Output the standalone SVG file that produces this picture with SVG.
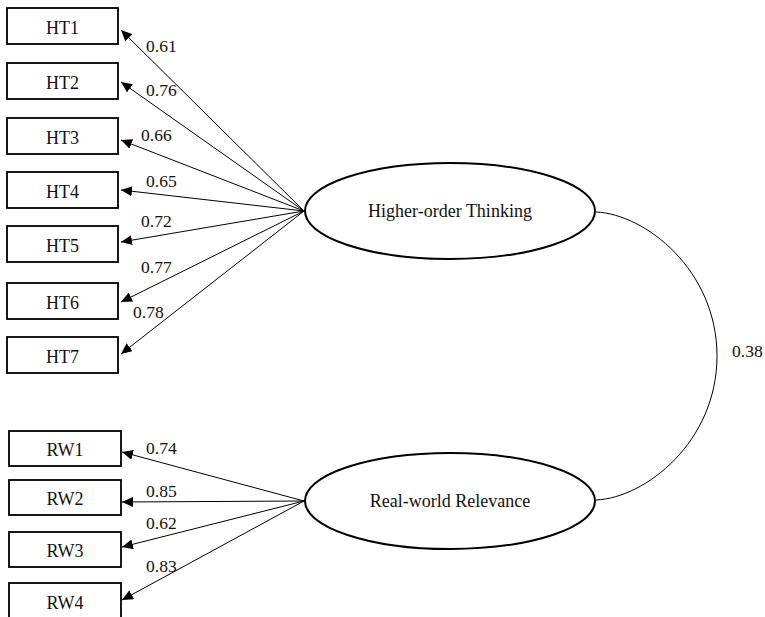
<svg xmlns="http://www.w3.org/2000/svg" width="765" height="617" viewBox="0 0 765 617">
<defs>
<style>
.box{fill:#fff;stroke:#000;stroke-width:1.8}
.lat{fill:#fff;stroke:#000;stroke-width:2}
.lbl{font-family:"Liberation Serif","Times New Roman",serif;font-size:18px;fill:#111;text-anchor:middle}
.num{font-family:"Liberation Serif","Times New Roman",serif;font-size:17.5px;fill:#111}
.ln{stroke:#000;stroke-width:1;fill:none}
</style>
<marker id="ah" markerUnits="userSpaceOnUse" markerWidth="12" markerHeight="10" refX="11" refY="5" orient="auto">
<path d="M0,0 L11,5 L0,10 z" fill="#000"/>
</marker>
</defs>
<rect width="765" height="617" fill="#fff"/>
<g id="connectors">
<line class="ln" x1="304" y1="211" x2="121" y2="30" marker-end="url(#ah)"/>
<line class="ln" x1="304" y1="211" x2="121" y2="82" marker-end="url(#ah)"/>
<line class="ln" x1="304" y1="211" x2="121" y2="140" marker-end="url(#ah)"/>
<line class="ln" x1="304" y1="211" x2="121" y2="190" marker-end="url(#ah)"/>
<line class="ln" x1="304" y1="211" x2="121" y2="242" marker-end="url(#ah)"/>
<line class="ln" x1="304" y1="211" x2="121" y2="302" marker-end="url(#ah)"/>
<line class="ln" x1="304" y1="211" x2="121" y2="354" marker-end="url(#ah)"/>
<line class="ln" x1="304" y1="501" x2="122" y2="452" marker-end="url(#ah)"/>
<line class="ln" x1="304" y1="501" x2="122" y2="502" marker-end="url(#ah)"/>
<line class="ln" x1="304" y1="501" x2="122" y2="547" marker-end="url(#ah)"/>
<line class="ln" x1="304" y1="501" x2="122" y2="600" marker-end="url(#ah)"/>
<path class="ln" d="M596,212 C645,214 717,270 717,356 S645,498 596,500"/>
<text class="num" x="146" y="52">0.61</text>
<text class="num" x="146" y="96">0.76</text>
<text class="num" x="141" y="141">0.66</text>
<text class="num" x="146" y="187">0.65</text>
<text class="num" x="141" y="227">0.72</text>
<text class="num" x="141" y="273">0.77</text>
<text class="num" x="133" y="318">0.78</text>
<text class="num" x="146" y="454">0.74</text>
<text class="num" x="146" y="497">0.85</text>
<text class="num" x="146" y="529">0.62</text>
<text class="num" x="146" y="572">0.83</text>
<text class="num" x="732" y="357">0.38</text>
</g>
<g id="HT1"><rect class="box" x="7" y="8" width="111" height="36"/><text class="lbl" x="62.5" y="34">HT1</text></g>
<g id="HT2"><rect class="box" x="7" y="63" width="111" height="36"/><text class="lbl" x="62.5" y="89">HT2</text></g>
<g id="HT3"><rect class="box" x="7" y="118" width="111" height="36"/><text class="lbl" x="62.5" y="144">HT3</text></g>
<g id="HT4"><rect class="box" x="7" y="172" width="111" height="36"/><text class="lbl" x="62.5" y="198">HT4</text></g>
<g id="HT5"><rect class="box" x="7" y="226" width="111" height="36"/><text class="lbl" x="62.5" y="252">HT5</text></g>
<g id="HT6"><rect class="box" x="7" y="283" width="111" height="36"/><text class="lbl" x="62.5" y="309">HT6</text></g>
<g id="HT7"><rect class="box" x="7" y="337" width="111" height="36"/><text class="lbl" x="62.5" y="363">HT7</text></g>
<g id="RW1"><rect class="box" x="9" y="431" width="112" height="35"/><text class="lbl" x="65" y="456">RW1</text></g>
<g id="RW2"><rect class="box" x="9" y="480" width="112" height="35"/><text class="lbl" x="65" y="505">RW2</text></g>
<g id="RW3"><rect class="box" x="9" y="532" width="112" height="35"/><text class="lbl" x="65" y="557">RW3</text></g>
<g id="RW4"><rect class="box" x="9" y="583" width="112" height="40"/><text class="lbl" x="65" y="609">RW4</text></g>
<g id="HigherOrderThinking"><ellipse class="lat" cx="450" cy="211" rx="145" ry="48"/><text class="lbl" x="450" y="217">Higher-order Thinking</text></g>
<g id="RealWorldRelevance"><ellipse class="lat" cx="450" cy="501" rx="145" ry="48"/><text class="lbl" x="450" y="507">Real-world Relevance</text></g>
</svg>
